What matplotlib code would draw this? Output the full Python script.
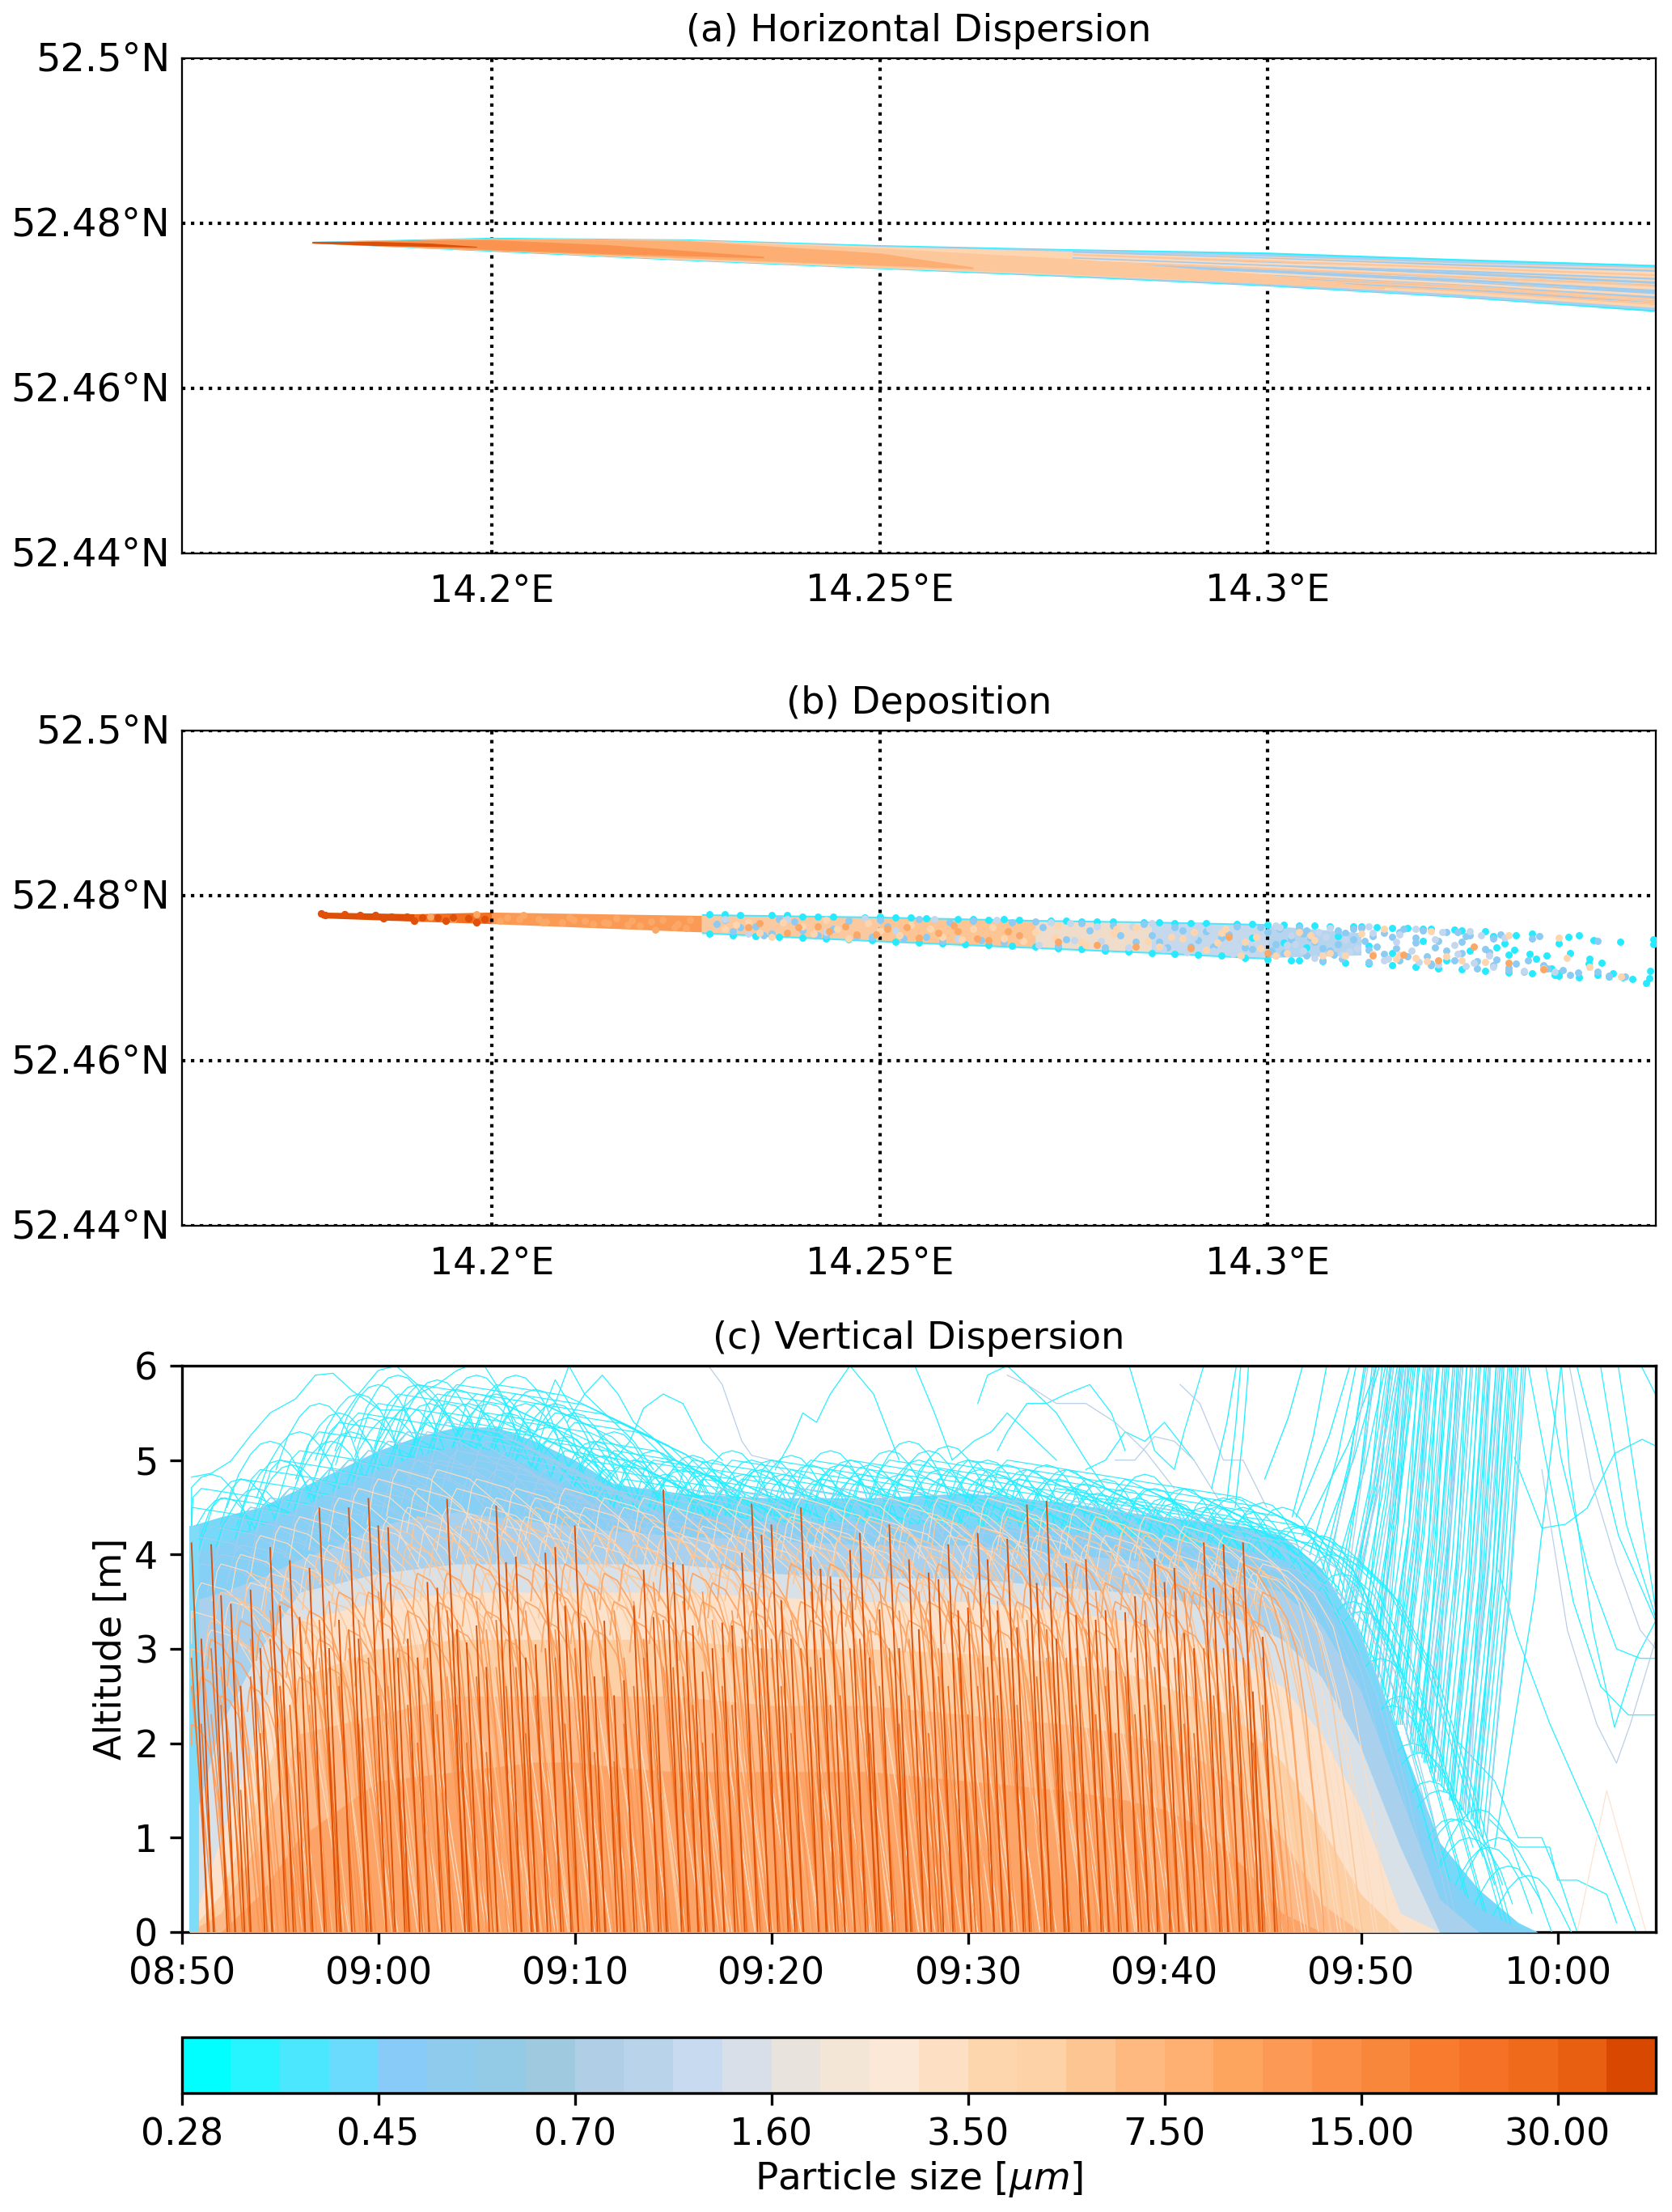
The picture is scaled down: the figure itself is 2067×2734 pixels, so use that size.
import numpy as np
import matplotlib
matplotlib.use("Agg")
import matplotlib.pyplot as plt
from matplotlib.colors import ListedColormap, Normalize
from matplotlib.cm import ScalarMappable
from matplotlib.transforms import ScaledTranslation

# ---------- colour scale ----------
size_colors = ['#00ffff', '#26f4ff', '#4be7fe', '#6bdbfd', '#88cbf9', '#8fcbed', '#93cbe6', '#9fc9de', '#b0cfe6', '#b9d4ea',
               '#c8daef', '#d9dfe8', '#e8e3dd', '#f4e6d6', '#fbe8d6', '#fde0c4', '#fed6ad', '#fdd2a6', '#fdc592', '#fdb97f',
               '#feb072', '#fda55f', '#fc9a55', '#fb8f48', '#f9873b', '#f87b2e', '#f57126', '#f06a1c', '#e85f12', '#d94801']
size_labels = ['0.28', '0.45', '0.70', '1.60', '3.50', '7.50', '15.00', '30.00']

lat_ticks = [52.44, 52.46, 52.48, 52.5]
lat_labels = ['52.44°N', '52.46°N', '52.48°N', '52.5°N']
lon_ticks = [14.2, 14.25, 14.3]
lon_labels = ['14.2°E', '14.25°E', '14.3°E']
time_ticks = [0, 10, 20, 30, 40, 50, 60, 70]
time_labels = ['08:50', '09:00', '09:10', '09:20', '09:30', '09:40', '09:50', '10:00']

# ---------- (a) plume outlines, read at these longitudes ----------
track_lon = [14.1768, 14.20, 14.225, 14.25, 14.275, 14.30, 14.325, 14.35]
cyan_upper = [52.4778, 52.4783, 52.4781, 52.4774, 52.4769, 52.4765, 52.4757, 52.4750]
cyan_lower = [52.4776, 52.4766, 52.4755, 52.4745, 52.4735, 52.4724, 52.4710, 52.4693]
blue_upper = [52.4778, 52.4782, 52.4780, 52.4773, 52.4768, 52.4763, 52.4755, 52.4748]
blue_lower = [52.4776, 52.4767, 52.4756, 52.4746, 52.4736, 52.4725, 52.4711, 52.4695]
peach_upper = [52.4777, 52.4782, 52.4780, 52.4772, 52.4766, 52.4760, 52.4752, 52.4746]
peach_lower = [52.4776, 52.4767, 52.4756, 52.4746, 52.4737, 52.4727, 52.4714, 52.4698]
light_lon = [14.1768, 14.20, 14.225, 14.25, 14.275, 14.30, 14.315]
light_upper = [52.4777, 52.4782, 52.4780, 52.4770, 52.4757, 52.4738, 52.4722]
light_lower = [52.4776, 52.4767, 52.4757, 52.4747, 52.4738, 52.4727, 52.4720]
orange_lon = [14.1768, 14.20, 14.225, 14.25, 14.262]
orange_upper = [52.4777, 52.4782, 52.4779, 52.4764, 52.4747]
orange_lower = [52.4776, 52.4767, 52.4758, 52.4749, 52.4745]
deep_lon = [14.1768, 14.19, 14.20, 14.215, 14.235]
deep_upper = [52.4777, 52.4780, 52.4780, 52.4774, 52.4760]
deep_lower = [52.4776, 52.4772, 52.4768, 52.4763, 52.4758]
dark_lon = [14.1768, 14.185, 14.192, 14.198]
dark_upper = [52.4778, 52.4778, 52.4776, 52.4772]
dark_lower = [52.4776, 52.4773, 52.4772, 52.4771]

streak_lon = [14.275, 14.30, 14.325, 14.35]
streak_blue = [[52.4752, 52.4742, 52.4731, 52.4718], [52.4750, 52.4740, 52.4728, 52.4714], [52.4759, 52.4752, 52.4742, 52.4733],
               [52.4758, 52.4749, 52.4739, 52.4728], [52.4745, 52.4735, 52.4724, 52.4710], [52.4765, 52.4757, 52.4749, 52.4742],
               [52.4741, 52.4731, 52.4719, 52.4705], [52.4748, 52.4737, 52.4726, 52.4716], [52.4754, 52.4745, 52.4735, 52.4724]]
streak_orange = [[52.4744, 52.4733, 52.4722, 52.4705], [52.4747, 52.4736, 52.4724, 52.4708], [52.4754, 52.4745, 52.4735, 52.4724],
                 [52.4762, 52.4754, 52.4746, 52.4737], [52.4741, 52.4730, 52.4718, 52.4702]]
streak_peach = [[52.4763, 52.4756, 52.4747, 52.4740], [52.4749, 52.4739, 52.4727, 52.4713], [52.4756, 52.4747, 52.4736, 52.4722],
                [52.4760, 52.4751, 52.4744, 52.4735]]

# ---------- (b) deposited particles ----------
band_lon = [14.178, 14.19, 14.20, 14.227, 14.25, 14.27, 14.285, 14.30, 14.312]
band_upper = [52.4780, 52.4778, 52.4780, 52.4776, 52.4773, 52.4769, 52.4767, 52.4764, 52.4755]
band_lower = [52.4773, 52.4769, 52.4766, 52.4756, 52.4746, 52.4738, 52.4732, 52.4725, 52.4728]
band_colors = ['#dc4f08', '#f2701f', '#fb9a55', '#fbc9a0', '#fdc594', '#efdccb', '#c6d9ec', '#b5d5ef']
edge_lon = [14.227, 14.25, 14.27, 14.285, 14.30]
edge_upper = [52.4778, 52.4775, 52.4771, 52.4769, 52.4766]
edge_lower = [52.4754, 52.4744, 52.4736, 52.4730, 52.4723]

dep_cyan_lon = [14.228, 14.232, 14.236, 14.24, 14.244, 14.248, 14.252, 14.256, 14.26, 14.264, 14.268, 14.272, 14.276, 14.28,
                14.284, 14.288, 14.292, 14.296, 14.30, 14.304, 14.308, 14.312, 14.316, 14.32, 14.324, 14.328,
                14.228, 14.234, 14.24, 14.246, 14.252, 14.258, 14.264, 14.27, 14.276, 14.282, 14.288, 14.294, 14.30, 14.304,
                14.31, 14.316, 14.322, 14.328, 14.332, 14.334, 14.3346, 14.3359, 14.3375, 14.3387, 14.3401, 14.3420, 14.3454,
                14.3310, 14.3318, 14.3337, 14.3295, 14.3375, 14.3401, 14.3413, 14.3425, 14.3457, 14.3488, 14.3493, 14.3497,
                14.3440, 14.3430, 14.3415, 14.3390, 14.3497, 14.3492, 14.298, 14.302, 14.305, 14.309, 14.313, 14.316, 14.32, 14.323,
                14.326, 14.329, 14.3305, 14.3365, 14.3375, 14.3445, 14.347,
                14.230, 14.238, 14.242, 14.25, 14.254, 14.262, 14.266, 14.274, 14.278, 14.286, 14.29, 14.298, 14.302, 14.306, 14.311, 14.314, 14.318, 14.321, 14.325,
                14.231, 14.237, 14.243, 14.249, 14.255, 14.261, 14.267, 14.273, 14.279, 14.285, 14.291, 14.297, 14.303, 14.307, 14.313, 14.319, 14.325, 14.331, 14.334, 14.337]
dep_cyan_lat = [52.4777, 52.4776, 52.4776, 52.4775, 52.4775, 52.4774, 52.4774, 52.4773, 52.4772, 52.4771, 52.4771, 52.4770, 52.4769, 52.4769,
                52.4768, 52.4767, 52.4767, 52.4766, 52.4765, 52.4764, 52.4763, 52.4763, 52.4761, 52.4760, 52.4759, 52.4757,
                52.4754, 52.4751, 52.4749, 52.4747, 52.4744, 52.4742, 52.4740, 52.4738, 52.4735, 52.4732, 52.4729, 52.4727, 52.4723, 52.4722,
                52.4719, 52.4716, 52.4712, 52.4709, 52.4752, 52.4754, 52.4724, 52.4727, 52.4742, 52.4750, 52.4752, 52.4746, 52.4744,
                52.4728, 52.4734, 52.4729, 52.4737, 52.4703, 52.4701, 52.4718, 52.4704, 52.4701, 52.4694, 52.4709, 52.4747,
                52.4702, 52.4719, 52.4724, 52.4730, 52.4741, 52.4700, 52.4749, 52.4743, 52.4737, 52.4751, 52.4739, 52.4730, 52.4745, 52.4722,
                52.4733, 52.4751, 52.4742, 52.4712, 52.4706, 52.4706, 52.4699,
                52.4777, 52.4776, 52.4775, 52.4775, 52.4774, 52.4772, 52.4772, 52.4770, 52.4769, 52.4768, 52.4767, 52.4766, 52.4765, 52.4764, 52.4763, 52.4762, 52.4761, 52.4760, 52.4758,
                52.4752, 52.4750, 52.4748, 52.4746, 52.4743, 52.4741, 52.4739, 52.4736, 52.4733, 52.4730, 52.4728, 52.4725, 52.4722, 52.4721, 52.4718, 52.4714, 52.4711, 52.4707, 52.4706, 52.4704]
dep_blue_lon = [14.229, 14.231, 14.234, 14.236, 14.239, 14.242, 14.244, 14.247, 14.250, 14.253, 14.255, 14.258, 14.262, 14.266, 14.27, 14.273,
                14.276, 14.279, 14.281, 14.284, 14.286, 14.288, 14.29, 14.292, 14.294, 14.296, 14.298, 14.30, 14.302, 14.304, 14.306, 14.308,
                14.31, 14.312, 14.314, 14.316, 14.318, 14.32, 14.322, 14.324, 14.326, 14.328, 14.33, 14.332, 14.334, 14.336, 14.338, 14.34,
                14.303, 14.307, 14.311, 14.315, 14.319, 14.323, 14.327, 14.331, 14.335, 14.339, 14.301, 14.305, 14.309, 14.313, 14.317, 14.321,
                14.325, 14.329, 14.333, 14.3425, 14.3425, 14.344, 14.346,
                14.230, 14.232, 14.235, 14.237, 14.24, 14.243, 14.246, 14.249, 14.251, 14.256, 14.259, 14.263, 14.267, 14.271, 14.274, 14.277,
                14.28, 14.283, 14.285, 14.287, 14.289, 14.291, 14.293, 14.295, 14.297, 14.299, 14.301, 14.303, 14.305, 14.307, 14.309, 14.311,
                14.313, 14.315, 14.317, 14.319, 14.321, 14.323, 14.325, 14.327, 14.329, 14.331, 14.3335, 14.3355, 14.3005, 14.3045, 14.3085, 14.3125,
                14.3165, 14.3205, 14.3245, 14.3285, 14.3015, 14.3055, 14.3095, 14.3135, 14.3175, 14.3215, 14.3255, 14.3295]
dep_blue_lat = [52.4766, 52.4757, 52.4763, 52.4754, 52.4769, 52.4752, 52.4760, 52.4750, 52.4771, 52.4748, 52.4772, 52.4745, 52.4770, 52.4743, 52.4769, 52.4739,
                52.4767, 52.4737, 52.4752, 52.4766, 52.4744, 52.4762, 52.4738, 52.4757, 52.4749, 52.4763, 52.4735, 52.4756, 52.4730, 52.4762, 52.4744, 52.4733,
                52.4755, 52.4761, 52.4738, 52.4750, 52.4726, 52.4758, 52.4745, 52.4722, 52.4752, 52.4735, 52.4753, 52.4718, 52.4748, 52.4712, 52.4710, 52.4707,
                52.4752, 52.4736, 52.4747, 52.4729, 52.4743, 52.4733, 52.4721, 52.4713, 52.4751, 52.4704, 52.4741, 52.4727, 52.4758, 52.4720, 52.4756, 52.4718,
                52.4744, 52.4716, 52.4708, 52.4745, 52.4708, 52.4703, 52.4702,
                52.4771, 52.4762, 52.4752, 52.4772, 52.4758, 52.4752, 52.4770, 52.4750, 52.4763, 52.4750, 52.4768, 52.4746, 52.4768, 52.4762, 52.4747, 52.4758,
                52.4764, 52.4744, 52.4752, 52.4737, 52.4758, 52.4746, 52.4738, 52.4753, 52.4737, 52.4762, 52.4727, 52.4747, 52.4758, 52.4722, 52.4741, 52.4760,
                52.4734, 52.4755, 52.4722, 52.4749, 52.4716, 52.4756, 52.4730, 52.4712, 52.4748, 52.4710, 52.4722, 52.4716, 52.4733, 52.4754, 52.4728, 52.4745,
                52.4736, 52.4726, 52.4756, 52.4731, 52.4760, 52.4749, 52.4724, 52.4751, 52.4760, 52.4737, 52.4751, 52.4723]
dep_grey_lon = [14.23, 14.233, 14.238, 14.243, 14.248, 14.252, 14.257, 14.26, 14.265, 14.268, 14.272, 14.275, 14.278, 14.282, 14.285, 14.287,
                14.291, 14.293, 14.295, 14.297, 14.299, 14.301, 14.303, 14.306, 14.308, 14.31, 14.313, 14.315, 14.317, 14.319, 14.322, 14.324,
                14.326, 14.329, 14.333, 14.337, 14.2905, 14.2965, 14.3035, 14.3115, 14.3185, 14.3245, 14.3285,
                14.2705, 14.2745, 14.2785, 14.2825, 14.2865, 14.2895, 14.2925, 14.2955, 14.2985, 14.3015, 14.3045, 14.3075, 14.3105, 14.3135, 14.3165, 14.3195,
                14.3225, 14.3255, 14.3275, 14.3305, 14.3025, 14.3065, 14.3095, 14.3155, 14.3215, 14.3265]
dep_grey_lat = [52.4772, 52.4754, 52.4772, 52.4756, 52.4773, 52.4758, 52.4772, 52.4748, 52.4771, 52.4752, 52.4768, 52.4746, 52.4763, 52.4737, 52.4767, 52.4755,
                52.4764, 52.4733, 52.4741, 52.4759, 52.4730, 52.4764, 52.4752, 52.4725, 52.4761, 52.4747, 52.4763, 52.4722, 52.4753, 52.4760, 52.4717, 52.4740,
                52.4757, 52.4714, 52.4709, 52.4708, 52.4750, 52.4746, 52.4741, 52.4736, 52.4733, 52.4729, 52.4727,
                52.4740, 52.4767, 52.4745, 52.4763, 52.4735, 52.4731, 52.4760, 52.4729, 52.4750, 52.4762, 52.4733, 52.4750, 52.4732, 52.4755, 52.4744, 52.4720,
                52.4756, 52.4715, 52.4752, 52.4749, 52.4740, 52.4756, 52.4728, 52.4724, 52.4747, 52.4719]
dep_peach_lon = [14.23, 14.233, 14.236, 14.24, 14.243, 14.246, 14.25, 14.254, 14.258, 14.262, 14.266, 14.27, 14.273, 14.276, 14.28, 14.283,
                 14.286, 14.289, 14.292, 14.294, 14.297, 14.299, 14.301, 14.304, 14.306, 14.308, 14.31, 14.312, 14.3135, 14.315, 14.317, 14.319,
                 14.321, 14.323, 14.325, 14.328, 14.331, 14.3375, 14.3355, 14.3385, 14.3455, 14.3415, 14.2945, 14.2965, 14.2985, 14.307,
                 14.2315, 14.2345, 14.2375, 14.2415, 14.2445, 14.2485, 14.2525, 14.2565, 14.2605, 14.2645, 14.2685, 14.2725, 14.2765, 14.2805, 14.2845,
                 14.2875, 14.2905, 14.2935, 14.3025, 14.3055, 14.3165, 14.3205]
dep_peach_lat = [52.4760, 52.4768, 52.4750, 52.4763, 52.4771, 52.4748, 52.4758, 52.4765, 52.4750, 52.4760, 52.4748, 52.4756, 52.4764, 52.4744, 52.4754, 52.4762,
                 52.4738, 52.4748, 52.4734, 52.4755, 52.4744, 52.4736, 52.4727, 52.4756, 52.4746, 52.4730, 52.4727, 52.4754, 52.4729, 52.4760, 52.4728, 52.4725,
                 52.4757, 52.4726, 52.4722, 52.4720, 52.4752, 52.4749, 52.4712, 52.4725, 52.4702, 52.4714, 52.4760, 52.4727, 52.4750, 52.4727,
                 52.4765, 52.4755, 52.4768, 52.4754, 52.4760, 52.4767, 52.4752, 52.4760, 52.4747, 52.4762, 52.4745, 52.4750, 52.4740, 52.4760, 52.4745,
                 52.4750, 52.4756, 52.4743, 52.4730, 52.4752, 52.4724, 52.4721]
dep_orange_lon = [14.192, 14.195, 14.198, 14.201, 14.204, 14.207, 14.21, 14.213, 14.216, 14.219, 14.222, 14.225, 14.202, 14.206, 14.209, 14.212,
                  14.215, 14.218, 14.221, 14.224, 14.233, 14.238, 14.242, 14.247, 14.251, 14.255, 14.26, 14.264, 14.268, 14.273, 14.278, 14.283,
                  14.29, 14.295, 14.30, 14.3135, 14.3175, 14.322, 14.3265, 14.331, 14.3355,
                  14.2035, 14.2065, 14.2105, 14.2145, 14.2175, 14.2205, 14.2235, 14.2255, 14.2345, 14.2395, 14.2435, 14.2455, 14.2495, 14.2535, 14.2575, 14.2595, 14.2625, 14.2665]
dep_orange_lat = [52.4775, 52.4772, 52.4777, 52.4770, 52.4776, 52.4769, 52.4774, 52.4766, 52.4773, 52.4764, 52.4771, 52.4761, 52.4774, 52.4772, 52.4768, 52.4770,
                  52.4767, 52.4770, 52.4759, 52.4766, 52.4762, 52.4755, 52.4763, 52.4753, 52.4760, 52.4749, 52.4757, 52.4746, 52.4752, 52.4744, 52.4740, 52.4738,
                  52.4736, 52.4750, 52.4730, 52.4727, 52.4728, 52.4722, 52.4738, 52.4719, 52.4711,
                  52.4772, 52.4768, 52.4771, 52.4768, 52.4765, 52.4769, 52.4762, 52.4771, 52.4767, 52.4762, 52.4757, 52.4763, 52.4753, 52.4762, 52.4755, 52.4764, 52.4748, 52.4757]
dep_deep_lon = [14.178, 14.1785, 14.181, 14.183, 14.185, 14.187, 14.189, 14.191, 14.193, 14.195, 14.197, 14.199, 14.186, 14.190, 14.194, 14.198]
dep_deep_lat = [52.4778, 52.4776, 52.4777, 52.4776, 52.4776, 52.4775, 52.4775, 52.4774, 52.4774, 52.4774, 52.4773, 52.4772, 52.4773, 52.4770, 52.4770, 52.4768]

# ---------- (c) trajectories: one release every half minute ----------
release_min = [0.5, 1, 1.5, 2, 2.5, 3, 3.5, 4, 4.5, 5, 5.5, 6, 6.5, 7, 7.5, 8, 8.5, 9, 9.5, 10, 10.5, 11, 11.5, 12, 12.5, 13, 13.5, 14, 14.5, 15,
               15.5, 16, 16.5, 17, 17.5, 18, 18.5, 19, 19.5, 20, 20.5, 21, 21.5, 22, 22.5, 23, 23.5, 24, 24.5, 25, 25.5, 26, 26.5, 27, 27.5, 28,
               28.5, 29, 29.5, 30, 30.5, 31, 31.5, 32, 32.5, 33, 33.5, 34, 34.5, 35, 35.5, 36, 36.5, 37, 37.5, 38, 38.5, 39, 39.5, 40, 40.5, 41,
               41.5, 42, 42.5, 43, 43.5, 44, 44.5, 45, 45.5, 46, 46.5, 47, 47.5, 48, 48.5, 49, 49.5, 50, 50.5, 51, 51.5, 52, 52.5, 53, 53.5, 54, 54.5, 55]
spike_top = [4.12, 3.1, 4.10, 3.56, 3.47, 2.6, 3.62, 3.0, 4.07, 3.45, 3.93, 3.33, 3.85, 4.49, 3.0, 3.3, 4.49, 3.1, 4.59, 4.30, 4.28, 2.9, 3.1, 2.9, 3.70, 3.64, 4.58, 3.2, 3.06, 3.24,
             2.8, 4.51, 3.91, 3.97, 2.9, 3.04, 4.01, 4.07, 3.45, 4.30, 3.27, 2.7, 3.29, 2.5, 2.66, 3.45, 3.83, 3.33, 4.68, 3.91, 3.89, 3.24, 2.75, 3.0, 3.27, 3.24,
             4.01, 4.53, 4.2, 4.31, 3.51, 3.1, 4.49, 3.97, 3.84, 3.76, 3.73, 4.04, 4.22, 2.9, 3.41, 4.31, 3.0, 3.94, 3.2, 3.8, 3.73, 4.1, 3.4, 3.43, 4.22, 3.94,
             3.4, 4.16, 3.22, 4.52, 3.69, 4.56, 3.1, 3.9, 3.35, 3.94, 3.3, 3.4, 3.0, 3.38, 3.55, 3.3, 3.95, 3.7, 3.85, 3.16, 3.0, 4.12, 3.64, 4.1, 3.64, 4.12, 2.54, 3.12]
spike_low = [2.9, 2.2, 3.0, 2.4, 1.9, 1.5, 2.7, 2.1, 3.1, 2.6, 2.4, 1.9, 2.8, 3.3, 2.0, 2.6, 3.2, 2.2, 2.9, 2.5, 3.1, 1.8, 2.4, 2.0, 2.9, 2.3, 3.4, 2.4, 2.0, 2.7,
             1.9, 3.3, 2.6, 2.8, 2.1, 2.5, 3.0, 2.9, 2.2, 3.0, 2.5, 1.9, 2.7, 1.8, 2.2, 2.6, 2.9, 2.4, 3.3, 2.8, 2.7, 2.4, 2.0, 2.1, 2.6, 2.4,
             3.0, 3.2, 3.0, 3.1, 2.6, 2.1, 3.0, 2.8, 2.9, 2.4, 2.5, 3.0, 3.1, 2.1, 2.6, 3.0, 2.2, 2.5, 3.2, 2.1, 2.7, 2.6, 2.9, 2.3, 2.6, 2.8,
             2.5, 3.0, 2.4, 3.3, 2.7, 3.2, 2.2, 2.9, 2.4, 2.9, 2.3, 2.6, 2.1, 2.7, 2.3, 2.4, 2.8, 2.4, 2.9, 2.2, 2.1, 3.0, 2.5, 3.0, 2.6, 2.9, 2.0, 2.4]
orange1_top = [2.6, 3.0, 2.3, 2.8, 3.2, 2.5, 3.1, 2.7, 3.4, 2.6, 3.0, 3.3, 2.4, 2.9, 3.5, 2.7, 3.0, 3.3, 2.8, 3.6, 2.6, 3.1, 3.4, 2.9, 3.2, 3.6, 2.7, 3.3, 3.0, 3.5,
               3.2, 2.8, 3.6, 3.1, 3.4, 2.9, 3.7, 3.2, 3.5, 2.8, 3.3, 3.6, 3.0, 3.4, 2.9, 3.5, 3.1, 3.7, 2.8, 3.2, 3.5, 3.0, 3.6, 3.3, 2.9, 3.4,
               3.1, 3.6, 3.2, 2.9, 3.5, 3.3, 3.0, 3.6, 3.2, 3.4, 2.8, 3.5, 3.1, 3.3, 3.7, 2.9, 3.4, 3.1, 3.6, 3.3, 3.0, 3.5, 3.2, 3.6, 2.9, 3.3,
               3.5, 3.0, 3.4, 3.1, 3.6, 2.9, 3.3, 3.5, 3.0, 3.2, 3.6, 2.8, 3.4, 3.1, 2.9, 3.5, 3.2, 3.0, 3.4, 3.6, 2.9, 3.3, 3.1, 3.4, 3.0, 3.5, 3.2, 2.9]
orange2_top = [2.2, 2.7, 3.1, 2.5, 2.9, 3.3, 2.6, 3.2, 2.8, 3.5, 3.0, 2.7, 3.4, 3.1, 2.8, 3.6, 3.2, 2.9, 3.6, 3.3, 3.7, 3.0, 3.4, 3.8, 3.1, 3.5, 3.8, 3.2, 3.6, 3.9,
               3.4, 3.7, 3.1, 3.8, 3.5, 3.9, 3.3, 3.6, 3.9, 3.4, 3.7, 3.2, 3.8, 3.5, 3.9, 3.3, 3.7, 3.4, 3.9, 3.6, 3.2, 3.8, 3.5, 3.7, 3.9, 3.3,
               3.7, 3.4, 3.8, 3.6, 3.2, 3.9, 3.5, 3.3, 3.7, 3.9, 3.4, 3.6, 3.8, 3.2, 3.5, 3.9, 3.7, 3.3, 3.8, 3.5, 3.9, 3.4, 3.7, 3.3, 3.8, 3.6,
               3.2, 3.9, 3.5, 3.7, 3.3, 3.8, 3.6, 3.4, 3.9, 3.5, 3.2, 3.7, 3.5, 3.8, 3.3, 3.6, 3.9, 3.4, 3.7, 3.2, 3.6, 3.8, 3.4, 3.7, 3.5, 3.9, 3.3, 3.6]
light_top = [3.0, 2.8, 3.3, 3.6, 3.1, 3.5, 3.8, 3.2, 3.7, 3.4, 3.9, 3.3, 3.8, 4.0, 3.5, 3.9, 4.1, 3.6, 4.2, 3.8, 4.3, 3.7, 4.1, 4.4, 3.9, 4.2, 3.6, 4.3, 4.0, 4.4,
             3.8, 4.2, 4.4, 3.9, 4.3, 4.5, 3.7, 4.1, 4.4, 4.0, 3.7, 4.2, 3.9, 4.3, 3.8, 4.1, 4.4, 3.9, 4.2, 3.7, 4.3, 4.0, 4.4, 3.8, 4.1, 3.9,
             4.3, 3.7, 4.2, 4.0, 4.4, 3.8, 4.1, 4.3, 3.9, 3.7, 4.2, 4.0, 4.4, 3.8, 4.1, 4.3, 3.9, 4.2, 3.7, 4.0, 4.4, 3.8, 4.2, 3.9, 4.3, 3.7,
             4.1, 4.4, 3.9, 4.2, 3.8, 4.3, 4.0, 3.7, 4.2, 3.9, 4.4, 3.8, 4.1, 4.3, 3.7, 4.2, 3.9, 4.0, 3.7, 4.2, 3.8, 4.0, 3.6, 4.1, 3.7, 3.9, 3.5, 3.8]
peach_top = [3.4, 3.7, 3.2, 3.9, 3.5, 4.0, 3.7, 4.2, 3.8, 4.3, 3.9, 4.4, 4.0, 4.5, 4.1, 4.6, 4.2, 4.7, 4.3, 4.8, 4.4, 4.9, 4.5, 4.7, 4.3, 4.9, 4.5, 4.7, 4.4, 4.8,
             4.5, 4.6, 4.3, 4.7, 4.4, 4.6, 4.2, 4.5, 4.7, 4.3, 4.5, 4.1, 4.6, 4.3, 4.5, 4.1, 4.6, 4.3, 4.2, 4.5, 4.2, 4.6, 4.3, 4.1, 4.5, 4.2,
             4.6, 4.3, 4.1, 4.5, 4.2, 4.4, 4.6, 4.1, 4.3, 4.5, 4.2, 4.6, 4.1, 4.4, 4.2, 4.6, 4.3, 4.5, 4.1, 4.4, 4.6, 4.2, 4.5, 4.1, 4.3, 4.6,
             4.2, 4.5, 4.1, 4.4, 4.2, 4.5, 4.0, 4.3, 4.5, 4.1, 4.4, 4.2, 3.9, 4.3, 4.1, 4.4, 3.9, 4.2, 4.0, 4.3, 3.8, 4.1, 3.9, 4.2, 3.7, 4.0, 3.8, 3.9]
blue_top = [4.2, 3.9, 4.3, 4.0, 4.4, 4.1, 4.5, 4.2, 4.6, 4.3, 4.7, 4.4, 4.8, 4.5, 4.9, 4.6, 5.0, 4.7, 5.1, 4.8, 5.2, 4.9, 5.3, 5.0, 5.3, 5.0, 5.4, 5.1, 5.3, 5.0,
            5.2, 4.9, 5.1, 4.8, 5.0, 4.7, 4.9, 4.6, 4.8, 4.5, 4.7, 4.4, 4.7, 4.4, 4.6, 4.3, 4.7, 4.4, 4.6, 4.3, 4.7, 4.4, 4.6, 4.3, 4.7, 4.4,
            4.6, 4.3, 4.7, 4.4, 4.6, 4.3, 4.7, 4.4, 4.6, 4.3, 4.7, 4.4, 4.6, 4.3, 4.6, 4.3, 4.7, 4.4, 4.6, 4.3, 4.6, 4.3, 4.7, 4.4, 4.6, 4.3,
            4.6, 4.3, 4.6, 4.3, 4.5, 4.2, 4.6, 4.3, 4.5, 4.2, 4.5, 4.2, 4.5, 4.2, 4.4, 4.1, 4.5, 4.2, 4.4, 4.1, 4.4, 4.1, 4.3, 4.0, 4.2, 3.9, 4.2, 3.9]
cyan_top = [4.5, 4.7, 4.3, 4.6, 4.4, 4.8, 4.5, 4.9, 4.6, 5.0, 4.7, 5.1, 4.8, 5.3, 4.9, 5.4, 5.0, 5.5, 5.1, 5.6, 5.2, 5.7, 5.3, 5.8, 5.4, 5.7, 5.5, 5.8, 5.4, 5.7,
            5.5, 5.8, 5.3, 5.7, 5.4, 5.6, 5.2, 5.5, 5.1, 5.4, 5.0, 5.2, 4.9, 5.1, 4.8, 5.0, 4.7, 5.0, 4.8, 4.9, 4.7, 5.0, 4.8, 4.9, 4.7, 5.0,
            4.8, 4.9, 4.7, 5.0, 4.8, 4.9, 4.7, 5.0, 4.8, 4.9, 4.7, 5.0, 4.8, 4.9, 4.7, 5.0, 4.8, 4.9, 4.7, 5.0, 4.8, 4.9, 4.7, 5.0, 4.8, 4.9,
            4.7, 5.0, 4.8, 4.9, 4.7, 4.8, 4.7, 4.9, 4.6, 4.8, 4.6, 4.7, 4.6, 4.8, 4.5, 4.7, 4.5, 4.6, 4.5, 4.7, 4.4, 4.6, 4.4, 4.5, 4.3, 4.4, 4.3, 4.2]
fall_rate = {'spike_top': 5.0, 'spike_low': 3.2, 'orange1': 2.2, 'orange2': 1.15, 'light': 0.75, 'peach': 0.6, 'blue': 0.4, 'cyan': 0.33}

# dense colour of each size group, upper edge against time
env_t = [0.4, 2, 4, 6, 8, 10, 12, 14, 16, 18, 20, 22, 25, 30, 35, 40, 45, 48, 50, 52, 54, 56, 58, 60, 62, 64, 66, 68, 69]
env_cyan = [4.3, 4.4, 4.5, 4.7, 4.9, 5.1, 5.25, 5.35, 5.35, 5.2, 5.0, 4.75, 4.65, 4.6, 4.6, 4.65, 4.55, 4.45, 4.4, 4.35, 4.3, 4.2, 3.85, 3.15, 2.05, 0.95, 0.45, 0.1, 0]
env_blue = [4.0, 4.1, 4.3, 4.5, 4.7, 4.9, 5.05, 5.15, 5.1, 4.9, 4.7, 4.5, 4.45, 4.35, 4.35, 4.3, 4.25, 4.2, 4.15, 4.1, 4.05, 3.95, 3.6, 2.9, 1.8, 0.65, 0.25, 0.05, 0]
env_greyblue = [3.5, 3.6, 3.75, 3.95, 4.1, 4.3, 4.4, 4.45, 4.4, 4.35, 4.3, 4.25, 4.2, 4.15, 4.1, 4.1, 4.0, 3.95, 3.9, 3.85, 3.75, 3.6, 3.25, 2.55, 1.45, 0.35, 0, 0, 0]
env_pale = [1.0, 2.2, 3.0, 3.6, 3.7, 3.8, 3.85, 3.9, 3.9, 3.9, 3.9, 3.9, 3.9, 3.8, 3.75, 3.75, 3.65, 3.6, 3.55, 3.45, 3.3, 3.1, 2.7, 1.95, 0.9, 0, 0, 0, 0]
env_cream = [0, 1.0, 2.2, 3.3, 3.4, 3.5, 3.55, 3.6, 3.6, 3.6, 3.6, 3.6, 3.6, 3.55, 3.5, 3.5, 3.4, 3.3, 3.2, 3.05, 2.85, 2.6, 2.1, 1.3, 0.2, 0, 0, 0, 0]
env_peach = [0, 0.4, 1.5, 2.7, 2.85, 3.0, 3.05, 3.1, 3.1, 3.1, 3.1, 3.1, 3.1, 3.0, 3.0, 2.95, 2.85, 2.75, 2.6, 2.45, 2.2, 1.8, 1.1, 0.4, 0, 0, 0, 0, 0]
env_light = [0, 0.2, 1.0, 2.1, 2.2, 2.3, 2.4, 2.5, 2.5, 2.5, 2.5, 2.5, 2.5, 2.4, 2.4, 2.3, 2.2, 2.1, 2.0, 1.8, 1.5, 1.0, 0.3, 0, 0, 0, 0, 0, 0]
env_orange = [0, 0, 0.4, 1.0, 1.3, 1.6, 1.65, 1.7, 1.75, 1.8, 1.8, 1.75, 1.7, 1.7, 1.7, 1.6, 1.5, 1.4, 1.3, 1.1, 0.7, 0.2, 0, 0, 0, 0, 0, 0, 0]

# short cyan loops along the top surface: crest time and altitude
loop_t = [1.5, 3, 4.5, 6, 7, 8, 9, 10, 11, 12, 13, 14, 15, 16, 17, 18, 19, 20, 21, 22, 23, 24, 25, 26, 27, 28, 29, 30, 31, 32, 33, 34, 35, 36,
          37, 38, 39, 40, 41, 42, 43, 44, 45, 46, 47, 48, 49, 50, 51, 52, 53, 54, 55, 56, 57, 58, 59, 60, 61, 62, 63, 64, 65, 66, 67,
          5, 9.5, 13.5, 17.5, 21.5, 25.5, 29.5, 33.5, 37.5, 41.5, 45.5, 49.5, 53.5, 58.5, 63.5, 65.5, 66.5, 67.5, 68.5,
          2.2, 3.8, 5.6, 7.6, 8.6, 10.6, 11.6, 12.6, 14.6, 15.6, 16.6, 18.6, 19.6, 20.6, 22.6, 24.6, 26.6, 28.6, 30.6, 32.6, 34.6, 36.6, 38.6, 40.6,
          42.6, 44.6, 46.6, 48.6, 50.6, 52.6, 54.6, 56.6, 59.6, 61.6, 62.6, 64.6]
loop_alt = [4.85, 4.8, 5.2, 5.3, 5.6, 5.5, 5.7, 5.8, 5.9, 5.8, 5.85, 5.75, 5.9, 5.7, 5.9, 5.75, 5.6, 5.5, 5.2, 5.3, 5.0, 5.1, 5.0, 5.05, 5.0, 5.1, 5.0, 5.0, 5.05, 4.95, 5.1, 5.0, 4.95, 5.1,
            5.2, 5.1, 5.15, 5.0, 5.0, 4.95, 4.9, 4.95, 4.9, 4.75, 4.8, 4.7, 4.85, 4.6, 4.7, 4.5, 4.6, 4.5, 4.55, 4.5, 4.3, 4.2, 3.8, 3.4, 2.9, 2.5, 1.9, 1.5, 1.2, 1.3, 1.0,
            5.0, 5.45, 5.6, 5.6, 5.05, 4.9, 4.9, 4.95, 5.0, 4.85, 4.7, 4.7, 4.6, 4.0, 1.6, 1.0, 0.9, 0.7, 0.6,
            4.6, 4.7, 4.95, 5.2, 5.3, 5.45, 5.55, 5.6, 5.6, 5.6, 5.5, 5.35, 5.25, 5.05, 4.95, 4.85, 4.85, 4.85, 4.85, 4.8, 4.85, 4.85, 4.9, 4.9,
            4.8, 4.8, 4.65, 4.6, 4.55, 4.5, 4.45, 4.3, 3.5, 2.4, 2.0, 1.2]

# cyan particles lofted again after the main fall: start time, start altitude, time they leave the top
rise_start_t = [52.4, 53.2, 53.6, 55.1, 56.5, 56.7, 57, 57.6, 58, 58.4, 58.7, 59, 59.4, 59.7, 60, 60.3, 60.5, 60.8, 61, 61.3, 61.5, 61.8,
                62, 62.3, 62.5, 62.8, 63, 63.3, 63.5, 63.7, 64, 64.2, 64.4, 64.6, 64.8, 65, 65.2, 65.4, 65.6, 65.8, 66, 66.2, 66.4, 66.8,
                59.2, 59.9, 60.6, 61.2, 61.9, 62.6, 63.2, 63.9, 64.5, 65.1, 65.7,
                58.2, 58.9, 59.5, 60.1, 60.7, 61.1, 61.7, 62.1, 62.7, 63.1, 63.6, 64.1, 64.7, 65.3, 65.9, 57.4, 59.1, 60.4, 61.6, 62.9]
rise_start_alt = [4.7, 4.6, 4.5, 4.8, 4.4, 4.4, 4.2, 3.9, 3.8, 3.6, 3.5, 3.3, 3.1, 3.1, 2.9, 2.8, 2.7, 2.6, 2.5, 2.4, 2.3, 2.2,
                  2.2, 2.1, 2.0, 1.9, 1.9, 1.8, 1.7, 1.6, 1.6, 1.5, 1.5, 1.4, 1.4, 1.3, 1.3, 1.2, 1.2, 1.1, 1.1, 1.0, 1.0, 0.9,
                  3.2, 3.0, 2.7, 2.5, 2.2, 2.0, 1.8, 1.6, 1.4, 1.3, 1.2,
                  3.7, 3.4, 3.2, 3.0, 2.7, 2.5, 2.3, 2.2, 1.9, 1.85, 1.7, 1.55, 1.4, 1.25, 1.1, 4.0, 3.3, 2.8, 2.3, 1.9]
rise_top_t = [53.7, 53.9, 54.3, 57.1, 58.3, 59.5, 60.9, 61, 60.3, 61.3, 60.8, 61.4, 61.7, 62, 62.2, 62.5, 62.8, 62.3, 63, 63.2, 63.5, 63.7,
              64, 64.2, 64.4, 64.8, 65, 65.2, 65.4, 65.6, 65.9, 66.1, 66.4, 66.6, 66.9, 67.1, 67.3, 67.5, 67.7, 67.9, 68, 68.2, 68.4, 70.2,
              61.6, 62.1, 62.7, 63.3, 63.9, 64.5, 65.1, 65.7, 66.3, 66.9, 67.6,
              60.2, 60.6, 61.1, 61.5, 62, 62.4, 62.9, 63.4, 63.9, 64.3, 64.9, 65.4, 66, 66.5, 67.2, 59.8, 61.9, 62.6, 63.6, 64.7]

# single wandering trajectories above the dense part
sparse_lines = [
    ([0.5, 1.5, 2.5, 3.5, 4.5, 5.8, 6.8, 7.7, 8.7, 10.1, 11.3, 12.2], [4.82, 4.86, 4.99, 5.26, 5.5, 5.65, 5.9, 5.92, 5.73, 5.53, 5.53, 5.2]),
    ([7, 8, 9, 10, 10.9, 12, 13, 14, 15], [5.1, 5.4, 5.7, 5.95, 6.0, 5.8, 5.6, 5.3, 5.0]),
    ([10, 11, 12, 13, 14, 14.6], [5.1, 5.5, 5.7, 5.8, 5.95, 6.0]),
    ([15.4, 16, 17, 18, 19, 20, 21, 22], [6.0, 5.8, 5.4, 5.3, 5.85, 5.5, 5.2, 4.9]),
    ([17, 18, 19, 19.7, 20.5, 21.5, 23, 24], [5.0, 5.3, 5.6, 6.0, 5.7, 5.5, 5.2, 4.9]),
    ([19.6, 20.5, 21.4, 22.2, 23, 24.2, 25], [5.4, 5.7, 5.9, 5.7, 5.4, 5.2, 5.0]),
    ([22, 22.8, 23.5, 24.5, 25.5, 26.5, 27.5], [5.0, 5.2, 5.55, 5.7, 5.6, 5.2, 5.0]),
    ([30.2, 31, 31.6, 32.3, 33, 34, 35.2, 36.5], [4.9, 5.2, 5.5, 5.4, 5.7, 6.0, 5.7, 5.0]),
    ([37.3, 38.3, 39.2, 40.3, 41.2, 42, 43, 44.5], [6.0, 5.5, 5.0, 5.2, 5.3, 5.5, 5.3, 5.0]),
    ([41.5, 42, 43, 44, 45, 46.2, 47.3, 48], [5.1, 5.3, 5.6, 5.6, 5.7, 5.8, 5.5, 5.1]),
    ([46, 47, 48, 49, 50, 51.5], [4.9, 5.0, 5.3, 5.2, 5.4, 5.0]),
    ([48.2, 49.5, 50.5, 51, 52], [6.0, 5.1, 4.9, 5.3, 6.0]),
    ([40.5, 41, 42, 43, 44.5, 46, 47], [5.6, 5.9, 6.0, 5.8, 5.5, 5.0, 4.7]),
]
sparse_blue_lines = [
    ([26.8, 27.5, 28.5, 29, 30, 31, 32], [6.0, 5.8, 5.2, 5.05, 5.0, 4.8, 4.5]),
    ([42, 43, 44.5, 46, 47.5, 49, 50.5], [5.9, 5.8, 5.6, 5.6, 5.4, 5.1, 4.7]),
    ([47.5, 48.5, 49.5, 50.5, 51.5, 53], [5.0, 5.0, 5.25, 5.2, 5.0, 4.5]),
    ([50.8, 51.8, 53, 54, 55.2], [5.8, 5.6, 5.0, 5.0, 4.5]),
]
right_lines = [
    ([71, 73.1, 75], [5.98, 4.2, 3.29]),
    ([72.2, 73.5, 75], [5.98, 4.32, 3.33]),
    ([73.1, 74.5, 75], [5.98, 4.07, 3.41]),
    ([74.3, 75], [5.98, 5.69]),
    ([67.8, 69.2, 70.4, 71.5, 72.9, 74.3, 75], [5.03, 4.28, 4.32, 4.49, 5.07, 5.22, 5.15]),
    ([67, 67.9, 69.6, 71.8, 74], [3.83, 3.16, 2.21, 1.17, 0]),
    ([70.2, 70.6, 71.8, 72.9, 74, 75], [6, 4.9, 3.2, 2.17, 2.9, 3.3]),
    ([68.5, 69.5, 70.8, 72.2, 73.6, 75], [6, 4.9, 3.5, 2.6, 2.3, 2.3]),
    ([69.4, 70.2, 71.6, 73, 74.2, 75], [6, 5.0, 3.8, 3.0, 2.9, 2.9]),
    ([66.5, 68, 69.6, 70, 71, 72.5, 73], [1.2, 0.9, 0.9, 0.55, 0.55, 0.4, 0.1]),
    ([65, 66.8, 68, 69.2, 70.2, 71], [2.0, 1.6, 1.0, 1.0, 0.5, 0]),
]
right_blue_lines = [
    ([69.2, 70.5, 72, 73, 73.7, 75], [4.9, 3.2, 2.2, 1.79, 2.2, 3.1]),
    ([70.6, 71.7, 73, 74.2, 75], [6, 4.8, 3.9, 3.2, 3.0]),
]
right_peach_line = ([71, 72.5, 74.1, 74.5], [0, 1.5, 0.3, 0])


def rect(left, top, right, bottom):
    # pixel box -> figure fractions
    return [left / 2067, 1 - bottom / 2734, (right - left) / 2067, (bottom - top) / 2734]


def fall_curve(t0, top, rate):
    # particle drifts off its crest, then sinks; time it needs comes from the group's fall rate
    dur = top / rate
    x = np.array([-0.07, -0.03, 0, 0.2, 0.4, 0.55, 0.7, 0.85, 1.0]) * dur + t0
    y = np.array([0.9, 0.98, 1, 0.98, 0.92, 0.83, 0.64, 0.34, 0]) * top
    return np.clip(x, 0.5, None), y


def map_panel(ax, title):
    ax.set_xlim(14.16, 14.35)
    ax.set_ylim(52.44, 52.5)
    ax.set_xticks(lon_ticks)
    ax.set_xticklabels(lon_labels)
    ax.set_yticks(lat_ticks)
    ax.set_yticklabels(lat_labels)
    ax.tick_params(length=0, labelsize=11, pad=6)
    ax.tick_params(axis='y', pad=3.5, labelsize=11.5)
    for label in ax.get_yticklabels():
        label.set_transform(label.get_transform() + ScaledTranslation(0, 0.8 / 72, fig.dpi_scale_trans))
    for s in ax.spines.values():
        s.set_linewidth(0.55)
    ax.set_title(title, fontsize=11.15, pad=5)


fig = plt.figure(figsize=(2067 / 300, 2734 / 300), dpi=300)

# (a)
ax_a = fig.add_axes(rect(224.6, 72, 2047, 684))
map_panel(ax_a, '(a) Horizontal Dispersion')
ax_a.grid(True, color='black', linestyle=':', linewidth=1, zorder=0)
ax_a.set_axisbelow(True)
ax_a.fill_between(track_lon, cyan_lower, cyan_upper, color='#2cf0ff', lw=0, zorder=1)
ax_a.fill_between(track_lon, blue_lower, blue_upper, color='#a8cfee', lw=0, zorder=1.1)
ax_a.fill_between(track_lon, peach_lower, peach_upper, color='#fdd6b0', lw=0, zorder=1.2)
for row in streak_blue:
    ax_a.plot(streak_lon, row, color='#9ecbee', lw=0.7, zorder=1.3)
for row in streak_peach:
    ax_a.plot(streak_lon, row, color='#fcd9bb', lw=0.6, zorder=1.4)
for row in streak_orange:
    ax_a.plot(streak_lon, row, color='#fdc59a', lw=0.5, zorder=1.5)
ax_a.fill_between(light_lon, light_lower, light_upper, color='#fdc79c', lw=0, zorder=1.6)
ax_a.fill_between(orange_lon, orange_lower, orange_upper, color='#fdae72', lw=0, zorder=1.7)
ax_a.fill_between(deep_lon, deep_lower, deep_upper, color='#fa934f', lw=0, zorder=1.8)
ax_a.fill_between(dark_lon, dark_lower, dark_upper, color='#dc4f08', lw=0, zorder=1.9)

# (b)
ax_b = fig.add_axes(rect(224.6, 903, 2047, 1515))
map_panel(ax_b, '(b) Deposition')
ax_b.grid(True, color='black', linestyle=':', linewidth=1, zorder=20)
ax_b.fill_between(edge_lon, edge_lower, edge_upper, color='#4be7fe', lw=0, zorder=0.9)
for i, c in enumerate(band_colors):
    ax_b.fill_between(band_lon[i:i + 2], band_lower[i:i + 2], band_upper[i:i + 2], color=c, lw=0, zorder=1)
ax_b.scatter(dep_cyan_lon, dep_cyan_lat, s=4.6, color='#26eaff', lw=0, zorder=3)
ax_b.scatter(dep_blue_lon, dep_blue_lat, s=4.6, color='#8ccbf3', lw=0, zorder=4)
ax_b.scatter(dep_grey_lon, dep_grey_lat, s=4.6, color='#c3d8ee', lw=0, zorder=5)
ax_b.scatter(dep_peach_lon, dep_peach_lat, s=4.6, color='#fdd6b0', lw=0, zorder=6)
ax_b.scatter(dep_orange_lon, dep_orange_lat, s=4.6, color='#fba766', lw=0, zorder=7)
ax_b.scatter(dep_deep_lon, dep_deep_lat, s=5, color='#e0500a', lw=0, zorder=8)

# (c)
ax_c = fig.add_axes(rect(224.6, 1688, 2047, 2388))
ax_c.set_xlim(0, 75)
ax_c.set_ylim(0, 6)
ax_c.set_xticks(time_ticks)
ax_c.set_xticklabels(time_labels)
ax_c.set_yticks([0, 1, 2, 3, 4, 5, 6])
ax_c.tick_params(labelsize=11)
ax_c.set_ylabel('Altitude [m]', fontsize=11, labelpad=1.5)
ax_c.set_title('(c) Vertical Dispersion', fontsize=11.15, pad=5)

for xs, ys in sparse_lines + right_lines:
    ax_c.plot(xs, ys, color='#26f0ff', lw=0.3, zorder=2)
for xs, ys in sparse_blue_lines + right_blue_lines:
    ax_c.plot(xs, ys, color='#b9cfe8', lw=0.3, zorder=2)
ax_c.plot(right_peach_line[0], right_peach_line[1], color='#fde3d0', lw=0.3, zorder=2)
for t0, a0, t1 in zip(rise_start_t, rise_start_alt, rise_top_t):
    ax_c.plot([t0, t0 + 0.6 * (t1 - t0), t1], [a0, a0 + 0.52 * (6.05 - a0), 6.05], color='#26eeff', lw=0.32, zorder=2)
for t0, a0, t1 in zip(rise_start_t[8::3], rise_start_alt[8::3], rise_top_t[8::3]):
    ax_c.plot([t0 + 0.2, t0 + 0.7 * (t1 - t0), t1 + 0.1], [a0, a0 + 0.55 * (6.05 - a0), 6.05], color='#a5cff0', lw=0.32, zorder=2)

ax_c.fill_between(env_t, 0, env_cyan, color='#78d8f9', lw=0, zorder=3)
for t0, top in zip(release_min, cyan_top):
    ax_c.plot(*fall_curve(t0, top, fall_rate['cyan']), color='#26eeff', lw=0.28, zorder=3.05)
for t0, top in zip(loop_t, loop_alt):
    dx = np.array([-2.2, -1.6, -1, -0.5, 0, 0.5, 1, 1.6, 2.2])
    dy = np.array([-0.7, -0.35, -0.14, -0.03, 0, -0.03, -0.14, -0.35, -0.7])
    ax_c.plot(np.clip(t0 + dx, 0.5, None), np.clip(top + dy, 0, None), color='#2aeeff', lw=0.3, zorder=3.1)
ax_c.fill_between(env_t, 0, env_blue, color='#86cff5', lw=0, zorder=4)
for t0, top in zip(release_min, blue_top):
    ax_c.plot(*fall_curve(t0, top, fall_rate['blue']), color='#a5cdec', lw=0.3, zorder=4.2)

ax_c.fill_between(env_t, 0, env_greyblue, color='#a9d0ec', lw=0, zorder=5)
ax_c.fill_between(env_t, 0, env_pale, color='#d8e0e8', lw=0, zorder=5.1)
ax_c.fill_between(env_t, 0, env_cream, color='#fce2ca', lw=0, zorder=5.2)
ax_c.fill_between(env_t, 0, env_peach, color='#fdcfa4', lw=0, zorder=5.3)
ax_c.fill_between(env_t, 0, env_light, color='#fdba88', lw=0, zorder=5.4)
ax_c.fill_between(env_t, 0, env_orange, color='#fca468', lw=0, zorder=5.5)
ax_c.fill_between([0.4, 0.9], [0, 0], [4.3, 4.3], color='#7fdcf8', lw=0, zorder=5.6)

for t0, top in zip(release_min, peach_top):
    ax_c.plot(*fall_curve(t0, top, fall_rate['peach']), color='#fcdcc0', lw=0.3, zorder=6)
for t0, top in zip(release_min, light_top):
    ax_c.plot(*fall_curve(t0, top, fall_rate['light']), color='#fdc696', lw=0.35, zorder=6.1)
for t0, top in zip(release_min, orange2_top):
    ax_c.plot(*fall_curve(t0, top, fall_rate['orange2']), color='#fca565', lw=0.4, zorder=6.2)
for t0, top in zip(release_min, orange1_top):
    ax_c.plot([t0, t0 + top / fall_rate['orange1']], [top, 0], color='#fb9450', lw=0.4, zorder=6.3)
for t0, top in zip(release_min, spike_low):
    ax_c.plot([t0, t0 + top / fall_rate['spike_low']], [top, 0], color='#ee6f20', lw=0.4, zorder=6.4)
for t0, top in zip(release_min, spike_top):
    ax_c.plot([t0, t0 + top / fall_rate['spike_top']], [top, 0], color='#dd5008', lw=0.45, zorder=6.5)

# colour bar
ax_cb = fig.add_axes(rect(224.6, 2518, 2047, 2587))
sm = ScalarMappable(norm=Normalize(0, 30), cmap=ListedColormap(size_colors))
cb = fig.colorbar(sm, cax=ax_cb, orientation='horizontal')
cb.set_ticks([0, 4, 8, 12, 16, 20, 24, 28])
cb.set_ticklabels(size_labels)
cb.ax.tick_params(labelsize=11)
cb.set_label(r'Particle size [$\mu m$]', fontsize=11.25, labelpad=2)

fig.savefig('out.png', dpi=300)
